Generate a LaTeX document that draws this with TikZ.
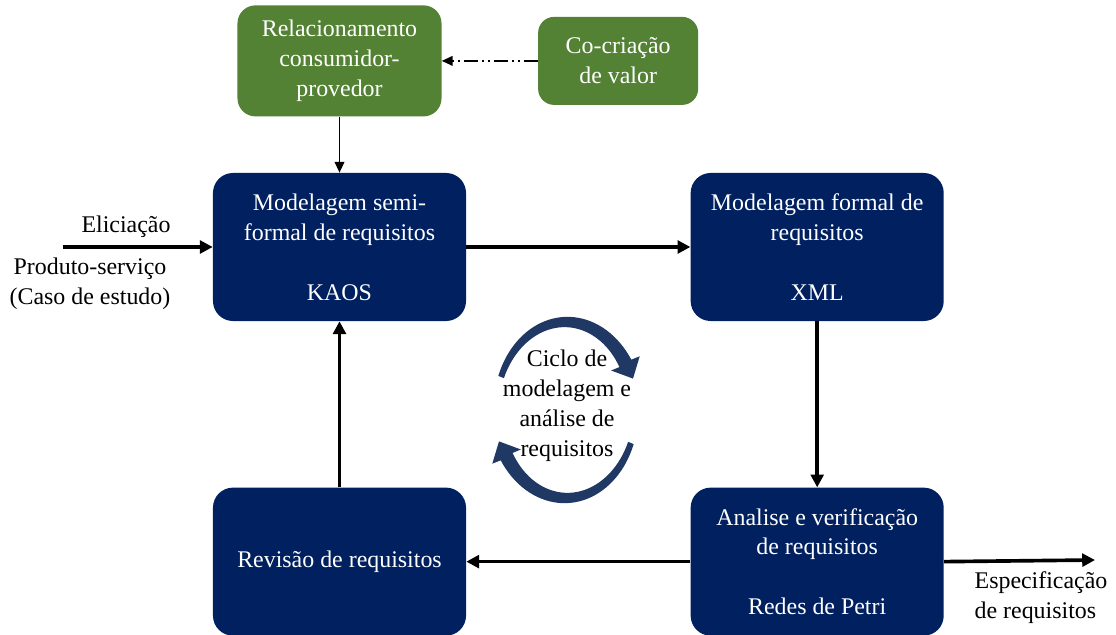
\documentclass[tikz,border=0pt]{standalone}
\usepackage{fontspec}
\setmainfont{Liberation Serif}
\usepackage{tikz}
\usepackage{xcolor}
\usetikzlibrary{arrows.meta, positioning, calc}
\definecolor{cNavy}{RGB}{0,32,96}
\definecolor{cGreen}{RGB}{84,130,53}
\definecolor{cCycle}{RGB}{31,56,100}
\tikzset{
	etapa/.style  ={rectangle, rounded corners=0.5cm, minimum width=6.325cm, minimum height=3.7cm, align=center, fill=cNavy, text=white, inner sep=2pt},
	contexto/.style={rectangle, rounded corners=0.45cm, align=center, fill=cGreen, text=white, inner sep=2pt},
	fluxo/.style  ={-{Triangle[length=3.2mm, width=3.2mm]}, line width=2.6pt},
	liga/.style   ={-{Triangle[length=2.7mm, width=2.4mm]}, line width=1.2pt},
	tracoponto/.style={dash pattern=on 0.35cm off 0.1cm on 0.05cm off 0.1cm on 0.05cm off 0.1cm},
	rotulo/.style ={inner sep=0pt},
}

\begin{document}
\begin{tikzpicture}[x=0.025cm, y=-0.025cm, every node/.style={font=\fontsize{17}{21.3}\selectfont}]
	\useasboundingbox (0,0) rectangle (1116,635);
	% four stages of the cycle
	\node[etapa] (semi) at (339.5,247) {Modelagem semi-\\formal de requisitos\\~\\KAOS};
	\node[etapa, right=5.6cm of semi] (xml) {Modelagem formal de\\requisitos\\~\\XML};
	\node[etapa, below=4.15cm of semi] (rev) {Revisão de requisitos};
	\node[etapa, right=5.6cm of rev] (petri) {Analise e verificação\\de requisitos\\~\\Redes de Petri};
	% context boxes
	\node[contexto, minimum width=5.1cm, minimum height=2.775cm, above=1.4cm of semi] (rel) {Relacionamento\\consumidor-\\provedor};
	\node[contexto, minimum width=4cm, minimum height=2.2cm, rounded corners=0.4cm, right=2.4cm of rel] (cocri) {Co-criação\\de valor};
	\draw[liga, tracoponto] (cocri) -- (rel);
	\draw[liga] (rel) -- (semi);
	% main flow
	\coordinate (elic) at (63,247);
	\coordinate (espec) at (1095,560);
	\draw[fluxo] (elic) -- (elic -| semi.west);
	\draw[fluxo] (semi) -- (xml);
	\draw[fluxo] (xml) -- (petri);
	\draw[fluxo] (petri) -- (rev);
	\draw[fluxo] (rev) -- (semi);
	\draw[fluxo] (petri.east) -- (espec);
	\node[rotulo] (elicl) at (126,227) {Eliciação};
	\node[rotulo, align=center] (prod) at (90,284) {Produto-serviço\\(Caso de estudo)};
	\node[rotulo, align=left] (especl) at (1041,598) {Especificação\\de requisitos};
	% cycle arrows in the middle
	\foreach \r in {0,180}{
		\fill[cCycle, rotate around={\r:(566,410)}]
			plot[domain=-158:-32, samples=40] ({566+(70+3+4*(\x+158)/126)*cos(\x)}, {410+(88+3+4*(\x+158)/126)*sin(\x)})
			-- (639.7,356.3) -- (633,378.6) -- (611.1,370.5)
			-- plot[domain=-32:-158, samples=40] ({566+(70-3-4*(\x+158)/126)*cos(\x)}, {410+(88-3-4*(\x+158)/126)*sin(\x)})
			-- cycle;
	}
	\node[rotulo, align=center] (ciclo) at (567,406) {Ciclo de\\modelagem e\\análise de\\requisitos};
\end{tikzpicture}
\end{document}
